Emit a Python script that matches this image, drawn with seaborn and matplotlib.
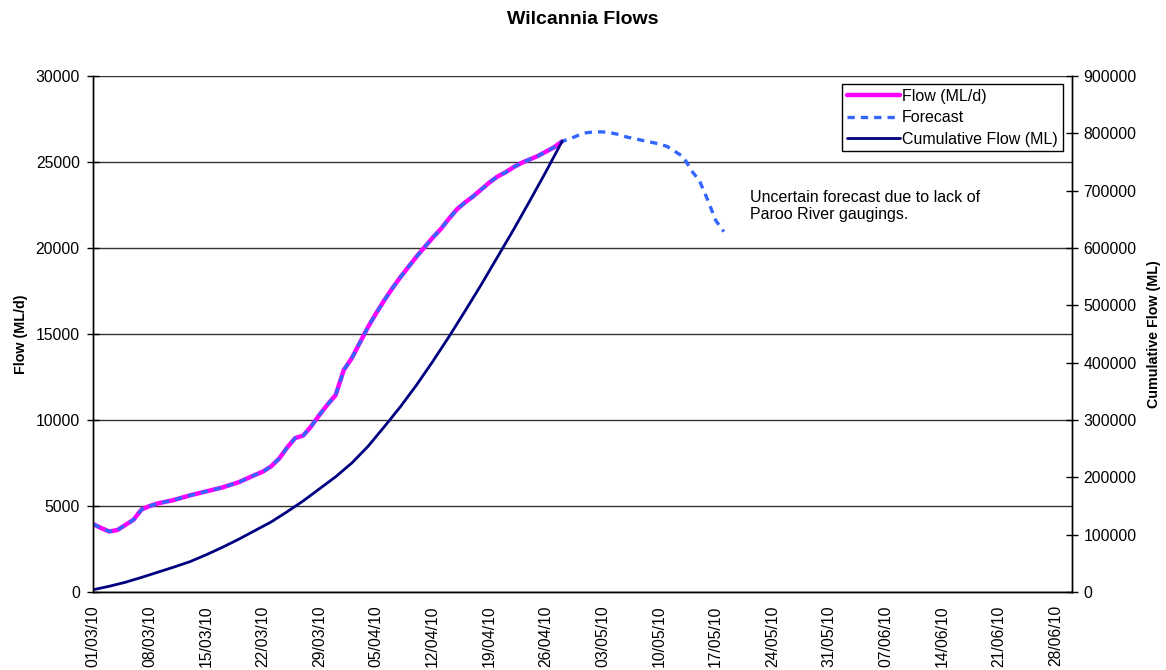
import pandas as pd
import numpy as np
import matplotlib
matplotlib.use("Agg")
import matplotlib.pyplot as plt
import matplotlib.dates as mdates
import seaborn as sns

# ── data ──────────────────────────────────────────────────────
START = pd.Timestamp("2010-03-01")

flow_days = [0, 1, 2, 3, 4, 5, 6, 7, 8, 10, 12, 14, 16, 18, 20, 21, 22, 23, 24, 25,
             26, 27, 28, 29, 30, 31, 32, 33, 34, 35, 36, 37, 38, 39, 40, 41, 42, 43,
             44, 45, 46, 47, 48, 49, 50, 51, 52, 53, 54, 55, 56, 57, 58]
flow_values = [3950, 3720, 3520, 3600, 3900, 4200, 4800, 5000, 5150, 5350, 5620, 5850,
               6080, 6380, 6800, 7000, 7300, 7750, 8400, 8950, 9100, 9650, 10300, 10900,
               11450, 12900, 13600, 14500, 15400, 16200, 16950, 17650, 18300, 18900,
               19500, 20050, 20600, 21100, 21700, 22250, 22650, 23000, 23400, 23800,
               24150, 24400, 24700, 24950, 25150, 25350, 25600, 25850, 26200]

forecast_tail_days = [59, 60, 61, 62, 63, 64, 65, 66, 67, 68, 69, 70, 71, 72, 73, 74,
                      75, 76, 77, 78]
forecast_tail_values = [26350, 26550, 26700, 26750, 26750, 26700, 26600, 26450, 26350,
                        26250, 26150, 26050, 25900, 25600, 25300, 24500, 23900, 22800,
                        21600, 20950]

cum_days = [0, 2, 4, 6, 8, 10, 12, 14, 16, 18, 20, 22, 24, 26, 28, 30, 32, 34, 36, 38,
            40, 42, 44, 46, 48, 50, 52, 54, 56, 58]
cum_values = [4000, 10000, 17000, 25500, 34500, 43500, 53000, 65000, 78000, 92000,
              107000, 122000, 140000, 159000, 180000, 201000, 225000, 254000, 288000,
              323000, 361000, 402000, 445000, 490000, 536000, 584000, 632000, 682000,
              733000, 786000]

annotation = "Uncertain forecast due to lack of\nParoo River gaugings."

# ── frames ────────────────────────────────────────────────────
def to_dates(days):
    return START + pd.to_timedelta(days, unit="D")

flow = pd.DataFrame({"Date": to_dates(flow_days), "Flow": flow_values})
forecast = pd.DataFrame({"Date": to_dates(flow_days + forecast_tail_days),
                         "Flow": flow_values + forecast_tail_values})
cum = pd.DataFrame({"Date": to_dates(cum_days), "Cum": cum_values})

# ── plot ──────────────────────────────────────────────────────
sns.set_style("white")
plt.rcParams["font.family"] = ["Liberation Sans", "DejaVu Sans"]
plt.rcParams.update({"text.color": "black", "axes.labelcolor": "black",
                     "xtick.color": "black", "ytick.color": "black"})

fig = plt.figure(figsize=(11.66, 6.70), dpi=100)
ax = fig.add_axes([0.0798, 0.1164, 0.8392, 0.7702])
ax2 = ax.twinx()

sns.lineplot(data=flow, x="Date", y="Flow", ax=ax, color="#FF00FF", linewidth=3.2,
             label="Flow (ML/d)", legend=False)
sns.lineplot(data=forecast, x="Date", y="Flow", ax=ax, color="#3366FF", linewidth=2.4,
             linestyle=(0, (2.2, 1.8)), label="Forecast", legend=False)
sns.lineplot(data=cum, x="Date", y="Cum", ax=ax2, color="#000080", linewidth=2.0,
             label="Cumulative Flow (ML)", legend=False)

ax.set_ylim(0, 30000)
ax.set_yticks(range(0, 30001, 5000))
ax2.set_ylim(0, 900000)
ax2.set_yticks(range(0, 900001, 100000))
ax.set_xlim(START, START + pd.Timedelta(days=121))

ax.set_xticks(to_dates(list(range(0, 120, 7))))
ax.xaxis.set_major_formatter(mdates.DateFormatter("%d/%m/%y"))
ax.set_xticks(to_dates(list(range(0, 122))), minor=True)

ax.grid(axis="y", color="#333333", linewidth=1.0)
ax.grid(axis="x", visible=False)
ax.set_axisbelow(True)

for a in (ax, ax2):
    for s in ("left", "right", "bottom"):
        a.spines[s].set_color("black")
        a.spines[s].set_linewidth(1.0)
    a.spines["top"].set_visible(False)

ax.tick_params(axis="x", which="both", direction="inout", length=9, width=1,
               color="black", labelcolor="black", labelsize=11.3, labelrotation=90, pad=5)
ax.tick_params(axis="y", direction="inout", length=9, width=1, color="black",
               labelcolor="black", labelsize=11.3, left=True, pad=5)
ax2.tick_params(axis="y", direction="inout", length=9, width=1, color="black",
                labelcolor="black", labelsize=11.3, right=True, pad=4)

ax.set_xlabel("")
ax.set_ylabel("Flow (ML/d)", fontsize=10.3, fontweight="bold", color="black")
ax.yaxis.set_label_coords(-0.0664, 0.5)
ax2.set_ylabel("Cumulative Flow (ML)", fontsize=10.3, fontweight="bold", rotation=90,
               color="black")
ax2.yaxis.set_label_coords(1.0776, 0.5)

fig.text(0.5, 1 - 20 / 670, "Wilcannia Flows", fontsize=14, fontweight="bold",
         ha="center", va="center", color="black")

ax.text(START + pd.Timedelta(days=81.2), 23400, annotation, fontsize=11.5,
        ha="left", va="top", linespacing=1.2, color="black")

handles = ax.get_lines()[:2] + ax2.get_lines()[:1]
leg = ax2.legend(handles, [h.get_label() for h in handles], loc="upper right",
                 bbox_to_anchor=(0.991, 0.9845), fontsize=11.5, frameon=True,
                 fancybox=False, framealpha=1, edgecolor="black", handlelength=3.3,
                 borderpad=0.3, labelspacing=0.4, handletextpad=0.15,
                 borderaxespad=0)
leg.get_frame().set_linewidth(1.0)
for t in leg.get_texts():
    t.set_color("black")

fig.savefig("out.png", dpi=100)
